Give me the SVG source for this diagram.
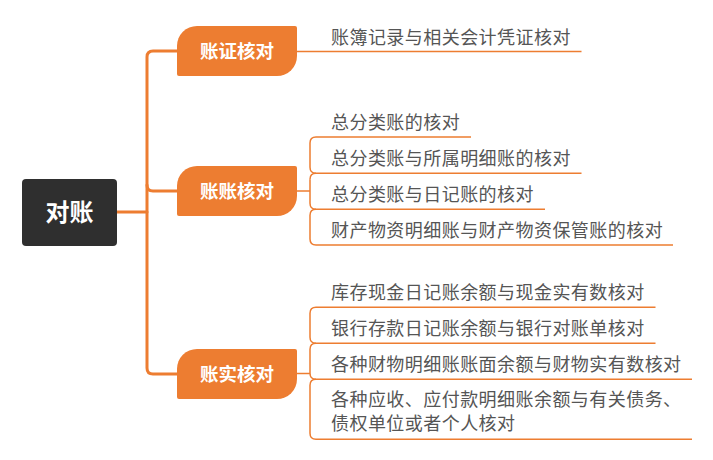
<svg xmlns="http://www.w3.org/2000/svg" width="713" height="460" viewBox="0 0 713 460">
<style>
.trunk{fill:none;stroke:#ed7d31;stroke-width:3;stroke-linecap:round}
.leafline{fill:none;stroke:#ed7d31;stroke-width:1.5}
.box{fill:#ed7d31}
.root{fill:#2f2f2f}
.rt{font-family:"Noto Sans CJK SC","Noto Sans",sans-serif;font-size:24px;font-weight:bold;fill:#fff;text-anchor:middle}
.bt{font-family:"Noto Sans CJK SC","Noto Sans",sans-serif;font-size:18.5px;font-weight:bold;fill:#fff;text-anchor:middle}
.lt{font-family:"Noto Sans CJK SC","Noto Sans",sans-serif;font-size:18px;letter-spacing:0.45px;fill:#555}
</style>
<g id="connectors">
<path class="trunk" d="M117,212 H147"/>
<path class="trunk" d="M177,51 H153 Q147,51 147,57 V368 Q147,374 153,374 H177"/>
<path class="trunk" d="M147,185 Q147,191 153,191 H177"/>
<path class="leafline" d="M297,51.5 H581.5"/>
<path class="leafline" d="M297,191 H310"/>
<path class="leafline" d="M471,137 H316 Q310,137 310,143 V167.3 Q310,173.3 316,173.3 H581.5"/>
<path class="leafline" d="M310,179.3 V203.3 Q310,209.3 316,209.3 H545"/>
<path class="leafline" d="M316,173.3 Q310,173.3 310,179.3"/>
<path class="leafline" d="M316,209.3 Q310,209.3 310,215.3 V239 Q310,245 316,245 H673"/>
<path class="leafline" d="M297,373.5 H310"/>
<path class="leafline" d="M655.5,307.3 H316 Q310,307.3 310,313.3 V337.3 Q310,343.3 316,343.3 H655.5"/>
<path class="leafline" d="M316,343.3 Q310,343.3 310,349.3 V373.3 Q310,379.3 316,379.3 H692"/>
<path class="leafline" d="M316,379.3 Q310,379.3 310,385.3 V433.3 Q310,439.3 316,439.3 H692"/>
</g>
<g id="root">
<rect class="root" x="22" y="179" width="95" height="67" rx="4"/>
<text class="rt" x="69.5" y="221">对账</text>
</g>
<g id="b1">
<path class="box" d="M197,26 H295 Q297,26 297,28 V56 A20,20 0 0 1 277,76 H179 Q177,76 177,74 V46 A20,20 0 0 1 197,26 Z"/>
<text class="bt" x="237" y="58">账证核对</text>
</g>
<g id="b2">
<path class="box" d="M197,166 H295 Q297,166 297,168 V196 A20,20 0 0 1 277,216 H179 Q177,216 177,214 V186 A20,20 0 0 1 197,166 Z"/>
<text class="bt" x="237" y="198">账账核对</text>
</g>
<g id="b3">
<path class="box" d="M197,349 H295 Q297,349 297,351 V379 A20,20 0 0 1 277,399 H179 Q177,399 177,397 V369 A20,20 0 0 1 197,349 Z"/>
<text class="bt" x="237" y="381">账实核对</text>
</g>
<g id="l1"><text class="lt" x="331" y="44">账簿记录与相关会计凭证核对</text></g>
<g id="l2"><text class="lt" x="331" y="129">总分类账的核对</text></g>
<g id="l3"><text class="lt" x="331" y="165">总分类账与所属明细账的核对</text></g>
<g id="l4"><text class="lt" x="331" y="201">总分类账与日记账的核对</text></g>
<g id="l5"><text class="lt" x="331" y="237">财产物资明细账与财产物资保管账的核对</text></g>
<g id="l6"><text class="lt" x="331" y="299">库存现金日记账余额与现金实有数核对</text></g>
<g id="l7"><text class="lt" x="331" y="335">银行存款日记账余额与银行对账单核对</text></g>
<g id="l8"><text class="lt" x="331" y="371">各种财物明细账账面余额与财物实有数核对</text></g>
<g id="l9"><text class="lt" x="331" y="406">各种应收、应付款明细账余额与有关债务、</text><text class="lt" x="331" y="430">债权单位或者个人核对</text></g>
</svg>
